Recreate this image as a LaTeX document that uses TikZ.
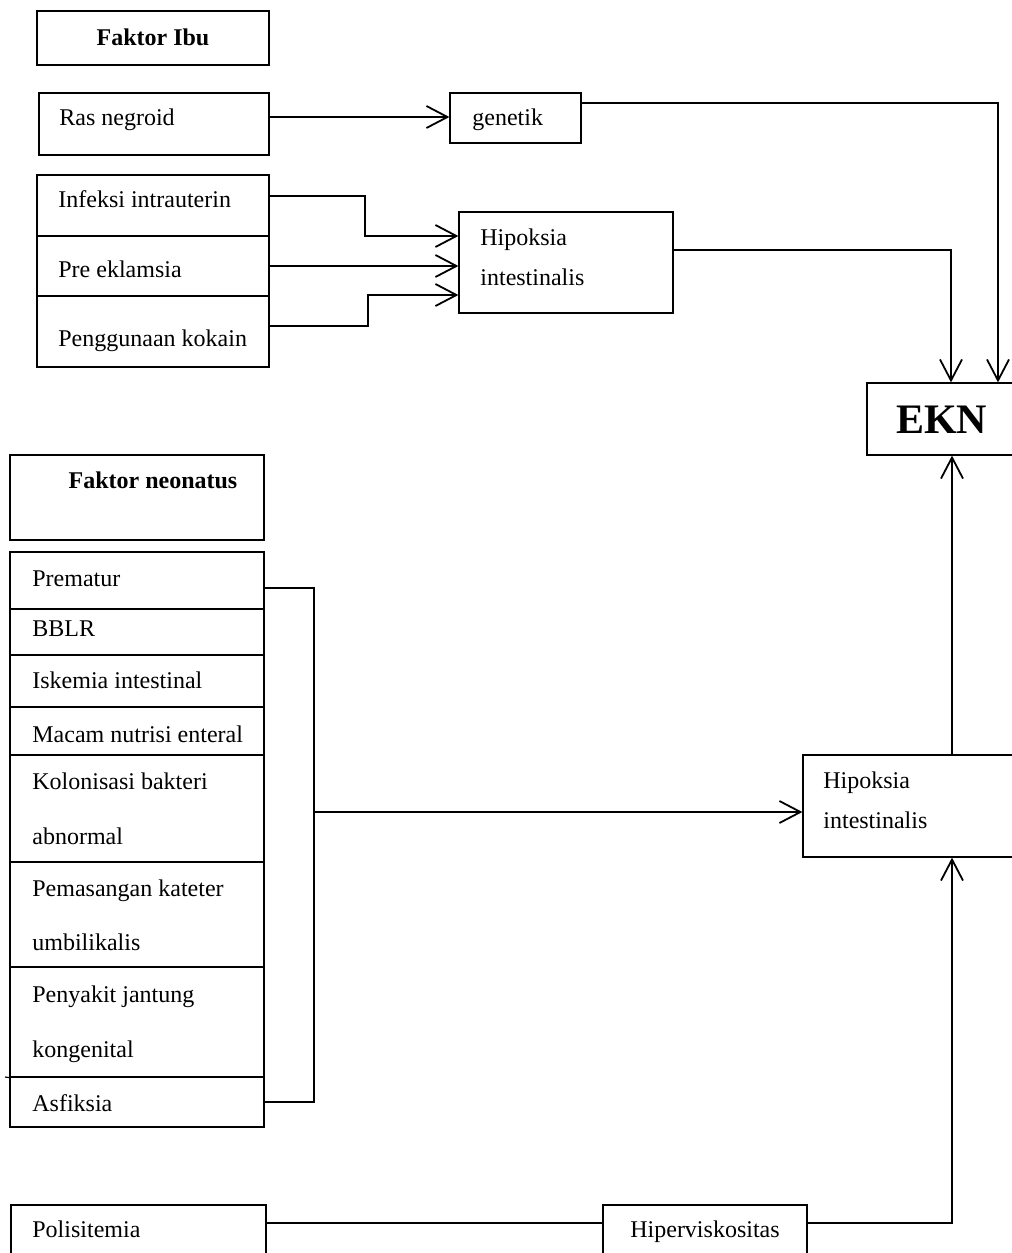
\documentclass[tikz,border=0pt]{standalone}
\usepackage{fontspec}
\setmainfont{Liberation Serif}
\usetikzlibrary{arrows.meta,fit}

\tikzset{
  box/.style={draw, line width=0.6pt, inner sep=0pt},
  txt/.style={anchor=base west, inner sep=0pt, font=\fontsize{12}{14}\selectfont},
  bold/.style={anchor=base, inner sep=0pt, font=\fontsize{12}{14}\selectfont\bfseries},
  conn/.style={line width=0.9pt},
  arr/.style={-{Straight Barb[length=10.5pt,width=11pt]}},
}

\begin{document}
\begin{tikzpicture}[x=0.5pt,y=-0.5pt]
\useasboundingbox (0,0) rectangle (1012,1253);
\clip (0,0) rectangle (1012,1253);

% Faktor ibu
\node[box, fit={(37,11) (269,65)}] (ibu) {};
\node[bold] (ibu-t) at (153,45) {Faktor Ibu};

\node[box, fit={(39,93) (269,155)}] (ras) {};
\node[txt] (ras-t) at (59,125) {Ras negroid};
\node[box, fit={(450,93) (581,143)}] (genetik) {};
\node[txt] (genetik-t) at (472,125) {genetik};

\node[box, fit={(37,175) (269,236)}] (infeksi) {};
\node[box, fit={(37,236) (269,296)}] (eklamsia) {};
\node[box, fit={(37,296) (269,367)}] (kokain) {};
\node[txt] (infeksi-t) at (58,207) {Infeksi intrauterin};
\node[txt] (eklamsia-t) at (58,277) {Pre eklamsia};
\node[txt] (kokain-t) at (58,346) {Penggunaan kokain};

\node[box, fit={(459,212) (673,313)}] (hipo1) {};
\node[txt] (hipo1-a) at (480,245) {Hipoksia};
\node[txt] (hipo1-b) at (480,285) {intestinalis};

% EKN
\node[box, fit={(867,383) (1016,455)}] (ekn) {};
\node[bold, font=\fontsize{21}{24}\selectfont\bfseries] (ekn-t) at (941.5,433) {EKN};

\draw[conn, arr] ([yshift=3.5pt]ras.east) -- ([yshift=3.5pt]ras.east -| genetik.west);
\draw[conn, arr] ([yshift=4.75pt]infeksi.east) -- ++(47.5pt,0) |- ([yshift=13.25pt]hipo1.west);
\draw[conn, arr] (eklamsia.east) -- (eklamsia.east -| hipo1.west);
\draw[conn, arr] ([yshift=2.75pt]kokain.east) -- ++(49pt,0) |- ([yshift=-16.25pt]hipo1.west);
\draw[conn, arr] ([yshift=7.5pt]genetik.east) -| ([xshift=28.25pt]ekn.north);
\draw[conn, arr] ([yshift=6.25pt]hipo1.east) -| ([xshift=4.75pt]ekn.north);

% Faktor neonatus
\node[box, fit={(10,455) (264,540)}] (neo) {};
\node[bold] (neo-t) at (153,488) {Faktor neonatus};

\node[box, fit={(10,552) (264,609)}] (prematur) {};
\node[box, fit={(10,609) (264,655)}] (bblr) {};
\node[box, fit={(10,655) (264,707)}] (iskemia) {};
\node[box, fit={(10,707) (264,755)}] (nutrisi) {};
\node[box, fit={(10,755) (264,862)}] (kolonisasi) {};
\node[box, fit={(10,862) (264,967)}] (kateter) {};
\node[box, fit={(10,967) (264,1077)}] (jantung) {};
\node[box, fit={(10,1077) (264,1127)}] (asfiksia) {};
\draw[line width=0.6pt] (5,1077) -- (jantung.south west);

\node[txt] (prematur-t) at (32,586) {Prematur};
\node[txt] (bblr-t) at (32,636) {BBLR};
\node[txt] (iskemia-t) at (32,688) {Iskemia intestinal};
\node[txt] (nutrisi-t) at (32,742) {Macam nutrisi enteral};
\node[txt] (kolonisasi-a) at (32,789) {Kolonisasi bakteri};
\node[txt] (kolonisasi-b) at (32,844) {abnormal};
\node[txt] (kateter-a) at (32,896) {Pemasangan kateter};
\node[txt] (kateter-b) at (32,950) {umbilikalis};
\node[txt] (jantung-a) at (32,1002) {Penyakit jantung};
\node[txt] (jantung-b) at (32,1057) {kongenital};
\node[txt] (asfiksia-t) at (32,1111) {Asfiksia};

\node[box, fit={(803,755) (1020,857)}] (hipo2) {};
\node[txt] (hipo2-a) at (823,788) {Hipoksia};
\node[txt] (hipo2-b) at (823,828) {intestinalis};

\coordinate (join) at (314,812);
\draw[conn] ([yshift=-3.75pt]prematur.east) -| (join);
\draw[conn] (asfiksia.east) -| (join);
\draw[conn, arr] (join) -- (join -| hipo2.west);
\draw[conn, arr] ([xshift=5.25pt]ekn.south |- hipo2.north) -- ([xshift=5.25pt]ekn.south);

% polisitemia
\node[box, fit={(11,1205) (266,1265)}] (poli) {};
\node[txt] (poli-t) at (32,1237) {Polisitemia};
\node[box, fit={(603,1205) (807,1265)}] (hiper) {};
\node[bold, font=\fontsize{12}{14}\selectfont] (hiper-t) at (705,1237) {Hiperviskositas};

\draw[conn] ([yshift=6pt]poli.east) -- ([yshift=6pt]poli.east -| hiper.west);
\draw[conn, arr] ([yshift=6pt]hiper.east) -| ([xshift=5.25pt]ekn.south |- hipo2.south);
\end{tikzpicture}
\end{document}
